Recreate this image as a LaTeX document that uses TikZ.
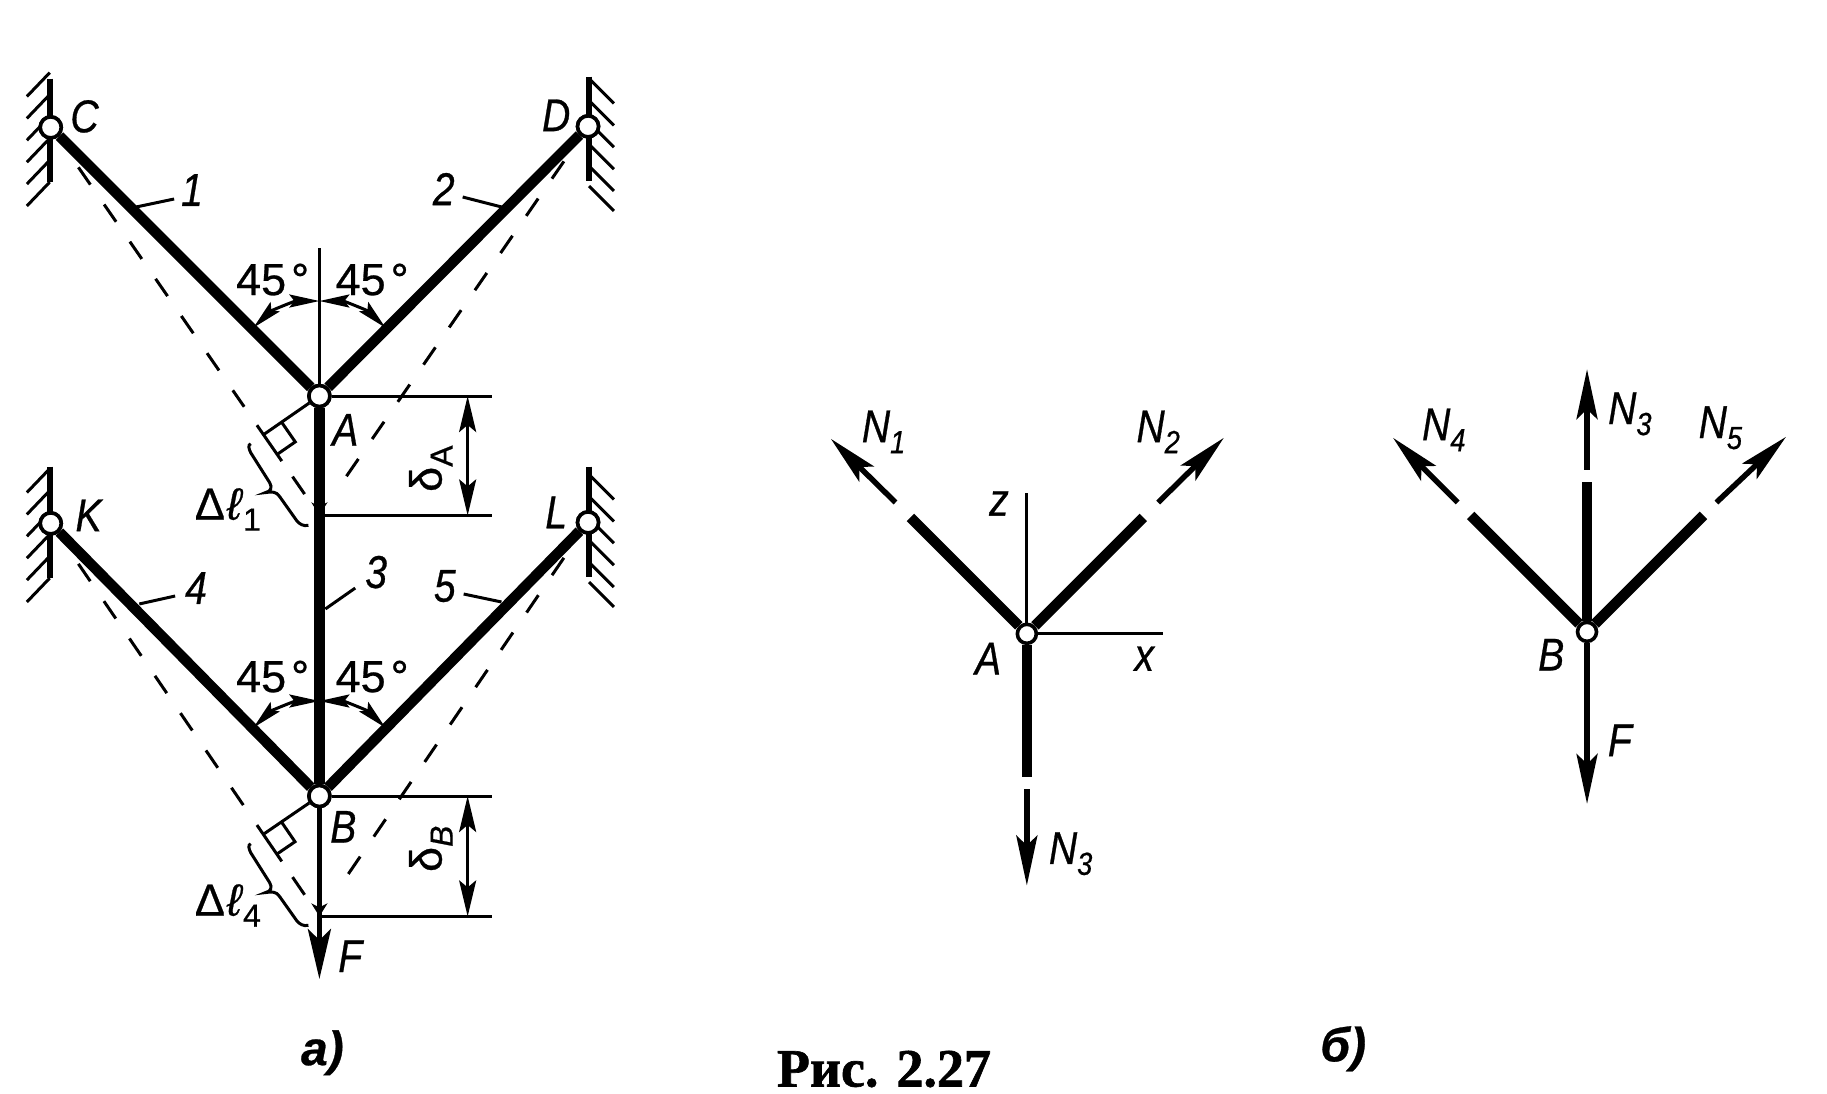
\documentclass[tikz,border=0pt]{standalone}
\usepackage{fontspec}
\usetikzlibrary{arrows.meta,calc}
\setmainfont{Liberation Sans}
\newfontfamily\lblfont[FakeStretch=0.85,FakeBold=0.6]{Liberation Sans}
\newfontfamily\digfont[FakeBold=0.6]{Liberation Sans}
\newfontfamily\capfont[FakeBold=1.2]{Liberation Serif}
\newcommand{\Sb}[1]{\raisebox{-11pt}{\fontsize{32}{32}\selectfont #1}}
\tikzset{
  x=0.995pt,y=-0.995pt,
  bar/.style={line width=10.5pt,black},
  rodthin/.style={line width=5.5pt,black},
  thin line/.style={line width=3pt,black},
  wall/.style={line width=5.5pt,black},
  hatch/.style={line width=3pt,black},
  hinge/.style={circle,draw=black,fill=white,line width=3.6pt,minimum size=21pt,inner sep=0pt},
  lbl/.style={font=\lblfont\itshape\fontsize{46}{46}\selectfont,inner sep=0pt,text=black},
  lblup/.style={font=\digfont\fontsize{45}{45}\selectfont,inner sep=0pt,text=black},
  big/.style={-{Stealth[length=50pt,width=21pt,inset=10pt]}},
  ftip/.style={-{Stealth[length=50pt,width=23pt,inset=11pt]}},
  dim/.style={{Stealth[length=36pt,width=17pt,inset=7pt]}-{Stealth[length=36pt,width=17pt,inset=7pt]},line width=3pt},
  arcarrow/.style={{Stealth[length=30pt,width=13pt,inset=5pt]}-{Stealth[length=30pt,width=13pt,inset=5pt]},line width=3pt},
  dashline/.style={line width=3pt,dash pattern=on 21pt off 24.2pt},
  smalltip/.style={-{Stealth[length=13pt,width=16pt,inset=4pt]},line width=3pt},
}
\newcommand{\LeftWall}[2]{%
  \begin{scope}[shift={(#1.center)}]
    \draw[wall] (-1,#2) -- (-1,55);
    \foreach \e in {-31,-9,13,35,57,79}
      \draw[hatch] (-1,\e-24) -- (-24,\e);
  \end{scope}}
\newcommand{\RightWall}[2]{%
  \begin{scope}[shift={(#1.center)}]
    \draw[wall] (1,#2) -- (1,55);
    \foreach \s in {-48,-26,-4,18,40,60}
      \draw[hatch] (1,\s) -- (26,\s+25);
  \end{scope}}
% #1 upper-left node, #2 upper-right node, #3 joint, #4 displaced joint, #5 prefix, #6 y-shift of the brace
\newcommand{\Deformed}[6]{%
  \draw[dashline] ($(#1)!0.103!(#4)$) -- ($(#1)!0.72!(#4)$);
  \draw[thin line] ($(#1)!0.7675!(#4)$) -- ($(#1)!0.86!(#4)$);
  \draw[thin line] ($(#1)!0.90!(#4)$) -- ($(#1)!0.945!(#4)$);
  \draw[dashline] ($(#2)!0.09!(#4)$) -- ($(#2)!0.925!(#4)$);
  \coordinate (#5P) at ($(#1)!(#3)!(#4)$);
  \coordinate (#5Q) at ($(#5P)!24pt!(#4)$);
  \coordinate (#5R) at ($(#5P)!22pt!(#3)$);
  \coordinate (#5S) at ($(#5Q)+(#5R)-(#5P)$);
  \draw[thin line] (#3) -- (#5P);
  \draw[thin line] (#5R) -- (#5S) -- (#5Q);
  \begin{scope}[shift={(0,#6)}]
    \draw[thin line] (252,446) .. controls (249,447) and (250,451) .. (252,455) -- (271,485)
      .. controls (274,490) and (272,494) .. (267,495)
      .. controls (273,494) and (278,494) .. (281,499) -- (298,523)
      .. controls (301,527) and (305,529) .. (310,528);
  \end{scope}
  \draw[arcarrow] ([shift={(90:95pt)}]#3.center) arc[start angle=90,end angle=134,radius=95pt];
  \draw[arcarrow] ([shift={(90:95pt)}]#3.center) arc[start angle=90,end angle=46,radius=95pt];
}
\begin{document}
\begin{tikzpicture}
\fill[white] (0,0) rectangle (1836.18,1098.49);
\useasboundingbox (0,0) rectangle (1836.18,1098.49);
% --- joints of the left figure
\coordinate (Ap) at (321,518);
\coordinate (Bp) at (321,921);
\coordinate (Aaxis) at (321,249);
\coordinate (Ftip) at (321,984);
\node[hinge] (C) at (51,128) {};
\node[hinge] (D) at (591,127) {};
\node[hinge] (K) at (51,526) {};
\node[hinge] (L) at (591,525) {};
\node[hinge] (A) at (321,398) {};
\node[hinge] (B) at (321,800) {};
% --- walls
\LeftWall{C}{-49}
\RightWall{D}{-50}
\LeftWall{K}{-57}
\RightWall{L}{-56}
% --- displaced positions
\Deformed{C}{D}{A}{Ap}{a}{0}
\Deformed{K}{L}{B}{Bp}{b}{402}
% --- axes and dimension lines
\draw[thin line] (A) -- (Aaxis);
\coordinate (Ae) at (494,398); \coordinate (Af) at (494,518);
\coordinate (Be) at (494,800); \coordinate (Bf) at (494,921);
\draw[thin line] (A) -- (Ae);
\draw[thin line] (Ap) -- (Af);
\draw[thin line] (B) -- (Be);
\draw[thin line] (Bp) -- (Bf);
\coordinate (Ad1) at (470,398); \coordinate (Ad2) at (470,518);
\coordinate (Bd1) at (470,800); \coordinate (Bd2) at (470,921);
\draw[dim] (Ad1) -- (Ad2);
\draw[dim] (Bd1) -- (Bd2);
% --- bars
\draw[bar] (C) -- (A);
\draw[bar] (D) -- (A);
\draw[bar] (K) -- (B);
\draw[bar] (L) -- (B);
\draw[bar] (A) -- (B);
\draw[rodthin,ftip] (B) -- (Ftip);
\coordinate (Aq) at (321,490); \coordinate (Bq) at (321,895);
\draw[smalltip] (Aq) -- (Ap);
\draw[smalltip] (Bq) -- (Bp);
\node[hinge] at (C) {};
\node[hinge] at (D) {};
\node[hinge] at (K) {};
\node[hinge] at (L) {};
\node[hinge] at (A) {};
\node[hinge] at (B) {};
% --- leaders
\coordinate (l1a) at (137,208); \coordinate (l1b) at (175,200);
\coordinate (l2a) at (465,198); \coordinate (l2b) at (504,208);
\coordinate (l3a) at (327,612); \coordinate (l3b) at (357,591);
\coordinate (l4a) at (140,607); \coordinate (l4b) at (176,599);
\coordinate (l5a) at (466,597); \coordinate (l5b) at (504,605);
\foreach \p/\q in {l1a/l1b,l2a/l2b,l3a/l3b,l4a/l4b,l5a/l5b} \draw[thin line] (\p) -- (\q);
% --- labels of the left figure
\node[lbl] (tC) at (85,117) {C};
\node[lbl] (tD) at (559,116) {D};
\node[lbl] (tK) at (89,518) {K};
\node[lbl] (tL) at (559,515) {L};
\node[lbl] (tA) at (347,432) {A};
\node[lbl] (tB) at (345,831) {B};
\node[lbl] (tF) at (352,961) {F};
\node[lbl] (t1) at (193,191) {1};
\node[lbl] (t2) at (446,190) {2};
\node[lbl] (t3) at (378,575) {3};
\node[lbl] (t4) at (197,591) {4};
\node[lbl] (t5) at (447,589) {5};
\node[lblup] (t45a) at (274,281) {45\hspace{5pt}°};
\node[lblup] (t45b) at (374,281) {45\hspace{5pt}°};
\node[lblup] (t45c) at (274,680) {45\hspace{5pt}°};
\node[lblup] (t45d) at (374,680) {45\hspace{5pt}°};
\node[lblup,rotate=90] (tda) at (433,471) {δ\Sb{A}};
\node[lblup,rotate=90] (tdb) at (433,853) {δ\Sb{\itshape B}};
\node[lblup] (tl1) at (229,512) {Δ\hspace{2pt}\textit{ℓ}\Sb{1}};
\node[lblup] (tl4) at (229,910) {Δ\hspace{2pt}\textit{ℓ}\Sb{4}};
\node[lbl,font=\digfont\bfseries\itshape\fontsize{48}{48}\selectfont] (ta) at (324,1058) {a)};
% --- middle figure
\node[hinge,minimum size=19pt] (A2) at (1032,637) {};
\coordinate (N1s) at (900,505); \coordinate (N1e) at (835,441);
\coordinate (N1t) at (915,520);
\coordinate (N2s) at (1164,505); \coordinate (N2e) at (1230,440);
\coordinate (N2t) at (1149,520);
\coordinate (N3t) at (1032,781); \coordinate (N3s) at (1032,793); \coordinate (N3e) at (1032,890);
\coordinate (zt) at (1032,495); \coordinate (xt) at (1169,637);
\draw[thin line] (A2) -- (zt);
\draw[thin line] (A2) -- (xt);
\draw[bar] (A2) -- (N1t);
\draw[bar] (A2) -- (N2t);
\draw[bar] (A2) -- (N3t);
\draw[rodthin,big] (N1s) -- (N1e);
\draw[rodthin,big] (N2s) -- (N2e);
\draw[rodthin,big] (N3s) -- (N3e);
\node[lbl] (tz) at (1004,506) {z};
\node[lbl] (tx) at (1150,662) {x};
\node[lbl] (tA2) at (993,662) {A};
\node[lbl] (tN1) at (888,434) {N\Sb{1}};
\node[lbl] (tN2) at (1164,434) {N\Sb{2}};
\node[lbl] (tN3) at (1076,858) {N\Sb{3}};
% --- right figure
\node[hinge,minimum size=19pt] (B2) at (1595,635) {};
\coordinate (N4s) at (1465,505); \coordinate (N4e) at (1400,440);
\coordinate (N4t) at (1478,518);
\coordinate (N5s) at (1725,505); \coordinate (N5e) at (1795,439);
\coordinate (N5t) at (1712,518);
\coordinate (N6t) at (1595,484); \coordinate (N6s) at (1595,472); \coordinate (N6e) at (1595,371);
\coordinate (F2) at (1595,808);
\draw[bar] (B2) -- (N4t);
\draw[bar] (B2) -- (N5t);
\draw[bar] (B2) -- (N6t);
\draw[rodthin,big] (N4s) -- (N4e);
\draw[rodthin,big] (N5s) -- (N5e);
\draw[rodthin,big] (N6s) -- (N6e);
\draw[rodthin,big] (B2) -- (F2);
\node[lbl] (tB2) at (1559,658) {B};
\node[lbl] (tF2) at (1628,744) {F};
\node[lbl] (tN4) at (1451,432) {N\Sb{4}};
\node[lbl] (tN6) at (1638,416) {N\Sb{3}};
\node[lbl] (tN5) at (1729,430) {N\Sb{5}};
\node[lbl,font=\digfont\bfseries\itshape\fontsize{48}{48}\selectfont] (tb2) at (1350,1054) {б)};
% --- caption
\node[font=\capfont\bfseries\fontsize{54}{54}\selectfont,inner sep=0pt,anchor=base] (cap) at (888.4,1092) {Рис. 2.27};
\end{tikzpicture}
\end{document}
